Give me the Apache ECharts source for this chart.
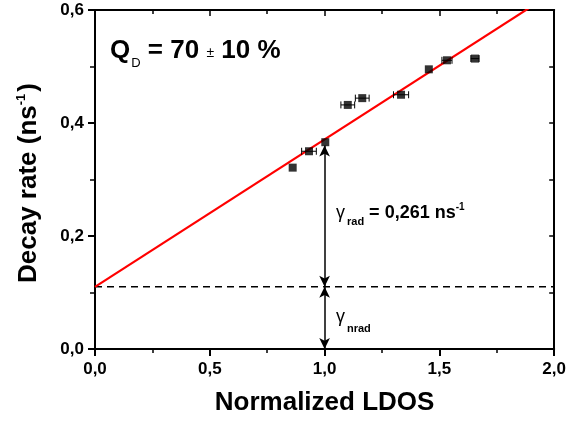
<!DOCTYPE html>
<html><head><meta charset="utf-8">
<script src="https://cdn.jsdelivr.net/npm/echarts@6/dist/echarts.min.js"></script>
<style>html,body{margin:0;padding:0;background:#fff}#c{width:569px;height:421px}</style>
</head><body><div id="c"></div>
<script>
// ---- data ----
const ldos    = [0.861, 0.932, 1.003, 1.101, 1.164, 1.333, 1.454, 1.533, 1.655];
const rate    = [0.321, 0.350, 0.366, 0.432, 0.444, 0.450, 0.495, 0.511, 0.514];
const ldosErr = [0.000, 0.032, 0.000, 0.030, 0.030, 0.033, 0.000, 0.022, 0.018];
const fitX = [0, 2];
const fitY = [0.11, 0.632];
const nradLevel = 0.11;
const radArrow = [0.36, 0.11];   // y range of gamma_rad arrow at LDOS = 1
const nradArrow = [0.11, 0.0];   // y range of gamma_nrad arrow at LDOS = 1
const arrowX = 1.0;

// ---- helpers ----
const FAM = '"Liberation Sans", Arial, sans-serif';
const K = 0.32;
const mctx = document.createElement('canvas').getContext('2d');
function fontStr(p){ return (p.bold ? 'bold ' : 'normal ') + p.size + 'px ' + FAM; }
function measure(parts){
  let w = 0;
  parts.forEach(p => { w += (p.gap||0); mctx.font = fontStr(p); w += mctx.measureText(p.t).width; });
  return w;
}
function runTexts(x0, base, parts){
  let x = x0; const out = [];
  parts.forEach(p => {
    x += (p.gap||0);
    out.push({type:'text', x: x, y: base + (p.dy||0) - K*p.size, silent: true,
      style:{text:p.t, font:fontStr(p), fill:'#000', align:'left', verticalAlign:'middle',
             textAlign:'left', textVerticalAlign:'middle'}});
    mctx.font = fontStr(p); x += mctx.measureText(p.t).width;
  });
  return out;
}
const fmt = v => v.toFixed(1).replace('.', ',');

const qParts = [
  {t:'Q', size:26, bold:true},
  {t:'D', size:13, bold:false, dy:9, gap:1},
  {t:' = 70 ', size:26, bold:true},
  {t:'\u00b1', size:14, bold:false, dy:-1},
  {t:' 10 %', size:26, bold:true}
];
const radParts = [
  {t:'\u03b3', size:18, bold:false},
  {t:'rad', size:11, bold:true, dy:6, gap:2},
  {t:' = 0,261 ns', size:18, bold:true},
  {t:'-1', size:10, bold:true, dy:-9}
];
const nradParts = [
  {t:'\u03b3', size:18, bold:false},
  {t:'nrad', size:11, bold:true, dy:9, gap:2}
];
const yTitleParts = [
  {t:'Decay rate (ns', size:26, bold:true},
  {t:'-1', size:13, bold:true, dy:-11},
  {t:')', size:26, bold:true, gap:2}
];
const yW = measure(yTitleParts);

const black = '#000';
const axisCommon = {
  type:'value', min:0, splitLine:{show:false},
  axisLine:{show:true, onZero:false, lineStyle:{color:black, width:2}}
};

const chart = echarts.init(document.getElementById('c'), null, {renderer:'canvas'});
chart.setOption({
  animation:false,
  backgroundColor:'#fff',
  grid:{left:95, right:14, top:10, bottom:71, containLabel:false},
  xAxis:[
    Object.assign({}, axisCommon, {max:2, interval:0.5, position:'bottom',
      axisTick:{show:true, length:7, lineStyle:{color:black, width:2}},
      minorTick:{show:true, splitNumber:2, length:4, lineStyle:{color:black, width:1.5}},
      axisLabel:{formatter:fmt, margin:12, color:black, fontSize:17, fontWeight:'bold', fontFamily:FAM},
      name:'Normalized LDOS', nameLocation:'middle', nameGap:41,
      nameTextStyle:{color:black, fontSize:26, fontWeight:'bold', fontFamily:FAM}}),
    Object.assign({}, axisCommon, {max:2, interval:0.5, position:'top',
      axisTick:{show:true, inside:true, length:6, lineStyle:{color:black, width:1.5}},
      minorTick:{show:true, splitNumber:2, length:4, lineStyle:{color:black, width:1.5}},
      axisLabel:{show:false}})
  ],
  yAxis:[
    Object.assign({}, axisCommon, {max:0.6, interval:0.2, position:'left',
      axisTick:{show:true, length:7, lineStyle:{color:black, width:2}},
      minorTick:{show:true, splitNumber:2, length:5, lineStyle:{color:black, width:1.5}},
      axisLabel:{formatter:fmt, margin:11, color:black, fontSize:17, fontWeight:'bold', fontFamily:FAM}}),
    Object.assign({}, axisCommon, {max:0.6, interval:0.2, position:'right',
      axisTick:{show:true, inside:true, length:5, lineStyle:{color:black, width:1.5}},
      minorTick:{show:true, splitNumber:2, length:5, lineStyle:{color:black, width:1.5}},
      axisLabel:{show:false}})
  ],
  series:[
    {type:'line', name:'nrad', data: fitX.map(x => [x, nradLevel]), symbol:'none', silent:true,
      lineStyle:{color:black, width:1.5, type:[7,5]}, z:2},
    {type:'line', name:'fit', data: fitX.map((x,i) => [x, fitY[i]]), symbol:'none', clip:true, silent:true,
      lineStyle:{color:'#ff0000', width:2.2}, z:3},
    {type:'custom', name:'err', silent:true, z:4,
      data: ldos.map((x,i) => [x, rate[i], ldosErr[i]]),
      renderItem:function(params, api){
        const x = api.value(0), y = api.value(1), e = api.value(2);
        if (!e) return {type:'group', children:[]};
        const a = api.coord([x-e, y]), b = api.coord([x+e, y]);
        const h = 3.5, st = {stroke:black, lineWidth:1};
        return {type:'group', children:[
          {type:'line', shape:{x1:a[0], y1:a[1], x2:b[0], y2:b[1]}, style:st},
          {type:'line', shape:{x1:a[0], y1:a[1]-h, x2:a[0], y2:a[1]+h}, style:st},
          {type:'line', shape:{x1:b[0], y1:b[1]-h, x2:b[0], y2:b[1]+h}, style:st}
        ]};
      }},
    {type:'scatter', name:'data', data: ldos.map((x,i) => [x, rate[i]]), symbol:'rect', symbolSize:8,
      itemStyle:{color:black}, silent:true, z:6},
    {type:'line', name:'arrows', data:[], silent:true, z:5,
      markLine:{silent:true, symbol:['arrow','arrow'], symbolSize:[8,11], label:{show:false},
        lineStyle:{color:black, width:1.5, type:'solid'}, emphasis:{disabled:true},
        data:[
          [{coord:[arrowX, radArrow[0]]}, {coord:[arrowX, radArrow[1]]}],
          [{coord:[arrowX, nradArrow[0]]}, {coord:[arrowX, nradArrow[1]]}]
        ]}}
  ],
  graphic:[].concat(
    runTexts(110, 59, qParts),
    runTexts(336, 219, radParts),
    runTexts(336, 323, nradParts),
    [{type:'group', x:37, y:183, rotation:Math.PI/2, silent:true,
      children: runTexts(-yW/2, 0, yTitleParts)}]
  )
});
</script></body></html>
